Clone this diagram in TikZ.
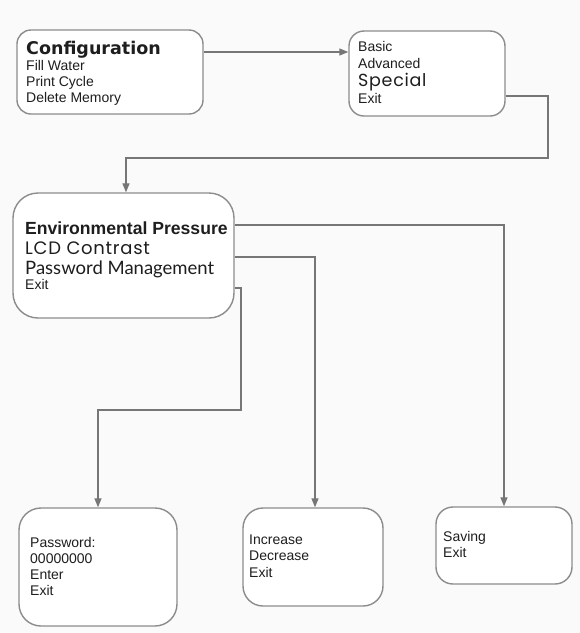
\documentclass[tikz,border=0pt]{standalone}
\usepackage{fontspec}
\setmainfont{Liberation Sans}
\newfontfamily\heavyfont{DejaVu Sans}
\newfontfamily\geofont{Poppins}[LetterSpace=4]
\newfontfamily\humfont{Lato}
\usetikzlibrary{arrows.meta}
\definecolor{bggray}{HTML}{FAFAFA}
\definecolor{boxgray}{HTML}{8C8C8C}
\definecolor{linegray}{HTML}{767676}
\definecolor{txtgray}{HTML}{1E1E1E}
\begin{document}
\begin{tikzpicture}[x=1pt,y=-1pt,
  box/.style={draw=boxgray, line width=1.4pt, fill=white, inner sep=0pt},
  txt/.style={anchor=base west, inner sep=0pt, text=txtgray, font=\fontsize{14}{16}\selectfont},
  conn/.style={draw=linegray, line width=1.3pt},
  arr/.style={conn, -{Triangle[length=9pt,width=7pt]}}]
\useasboundingbox (0,0) rectangle (580,633);
\fill[bggray] (0,0) rectangle (580,633);

% boxes
\node[box, rounded corners=14pt, minimum width=186pt, minimum height=84pt] (b1) at (110,72) {};
\node[box, rounded corners=15pt, minimum width=156pt, minimum height=85pt] (b2) at (427,73.5) {};
\node[box, rounded corners=25pt, minimum width=221pt, minimum height=125pt] (b3) at (123.5,255.5) {};
\node[box, rounded corners=22pt, minimum width=158pt, minimum height=118pt] (b4) at (98,567) {};
\node[box, rounded corners=20pt, minimum width=140pt, minimum height=98pt] (b5) at (313,557) {};
\node[box, rounded corners=17pt, minimum width=136pt, minimum height=77pt] (b6) at (504,545.5) {};

% box 1 text
\node[txt, font=\heavyfont\bfseries\fontsize{17.5}{18}\selectfont] (t1a) at (26,54) {Configuration};
\node[txt] (t1b) at (26,70) {Fill Water};
\node[txt] (t1c) at (26,86) {Print Cycle};
\node[txt] (t1d) at (26,102) {Delete Memory};

% box 2 text
\node[txt] (t2a) at (358,51) {Basic};
\node[txt] (t2b) at (358,68) {Advanced};
\node[txt, font=\geofont\fontsize{17.5}{19}\selectfont] (t2c) at (358,86) {Special};
\node[txt] (t2d) at (358,103) {Exit};

% box 3 text
\node[txt, font=\bfseries\fontsize{17.6}{19}\selectfont] (t3a) at (25,234) {Environmental Pressure};
\node[txt, font=\geofont\fontsize{18}{19}\selectfont] (t3b) at (25,254) {LCD Contrast};
\node[txt, font=\humfont\fontsize{18.5}{20}\selectfont] (t3c) at (25,274) {Password Management};
\node[txt] (t3d) at (25,289) {Exit};

% box 4 text
\node[txt] (t4a) at (30,547) {Password:};
\node[txt] (t4b) at (30,563) {00000000};
\node[txt] (t4c) at (30,579) {Enter};
\node[txt] (t4d) at (30,595) {Exit};

% box 5 text
\node[txt] (t5a) at (249,544) {Increase};
\node[txt] (t5b) at (249,560) {Decrease};
\node[txt] (t5c) at (249,577) {Exit};

% box 6 text
\node[txt] (t6a) at (443,541) {Saving};
\node[txt] (t6b) at (443,557) {Exit};

% connectors
\draw[arr] (b1.east |- 0,52) -- (b2.west |- 0,52);
\draw[arr] (b2.east |- 0,96) -- (548,96) -- (548,158) -- (126,158) -- ([xshift=2.5pt]b3.north);
\draw[arr] (b3.east |- 0,225) -| (b6.north);
\draw[arr] (b3.east |- 0,257) -| ([xshift=2pt]b5.north);
\draw[arr] (b3.east |- 0,288) -- (241,288) -- (241,410) -| (b4.north);
\end{tikzpicture}
\end{document}
